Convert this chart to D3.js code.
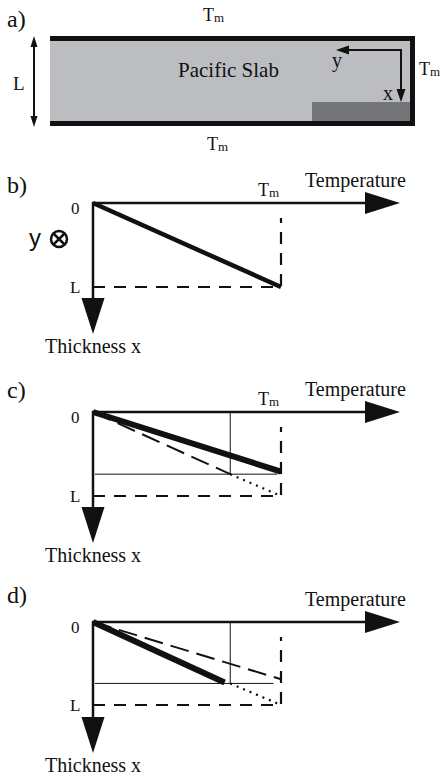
<!DOCTYPE html>
<html>
<head>
<meta charset="utf-8">
<style>
  body { margin: 0; background: #fff; }
</style>
</head>
<body>
<script src="https://cdn.jsdelivr.net/npm/d3@7/dist/d3.min.js"></script>
<script>
// panel labels
var panelLabels = ["a)", "b)", "c)", "d)"];
var axisLabels = ["Temperature", "Thickness x"];

// temperature profiles, as [T / Tm, x / L]
var profileB = [[0, 0], [1, 1]];
var profileCSolid = [[0, 0], [1, 0.71]];
var profileCDashed = [[0, 0], [0.73, 0.74]];
var profileCDotted = [[0.73, 0.74], [1, 1]];
var profileDSolid = [[0, 0], [0.70, 0.73]];
var profileDDashed = [[0, 0], [1, 0.69]];
var profileDDotted = [[0.73, 0.74], [1, 1]];
// thin guide lines (T and x where the profiles break)
var guideC = [0.73, 0.74];
var guideD = [0.73, 0.74];

var serif = "'Liberation Serif', 'Times New Roman', 'DejaVu Serif', serif";
var W = 447, H = 779;
var svg = d3.select("body").append("svg")
  .attr("width", W)
  .attr("height", H)
  .attr("font-family", serif);

function txt(g, x, y, size, s) {
  return g.append("text").attr("x", x).attr("y", y).attr("font-size", size)
    .attr("font-family", serif).attr("fill", "#111").text(s);
}

function tm(g, x, y, size) {
  var t = g.append("text").attr("x", x).attr("y", y).attr("font-size", size)
    .attr("font-family", serif).attr("fill", "#111");
  t.append("tspan").text("T");
  t.append("tspan").attr("font-size", size * 0.72).attr("dy", 1).text("m");
}

// ---------- panel a ----------
var a = svg.append("g");
txt(a, 7, 27, 24, panelLabels[0]);
a.append("rect").attr("x", 50).attr("y", 37).attr("width", 362).attr("height", 87).attr("fill", "#bcbdc0");
a.append("rect").attr("x", 312).attr("y", 102).attr("width", 100).attr("height", 22).attr("fill", "#747578");
a.append("line").attr("x1", 50).attr("x2", 415).attr("y1", 38.5).attr("y2", 38.5).attr("stroke", "#111").attr("stroke-width", 5);
a.append("line").attr("x1", 50).attr("x2", 415).attr("y1", 123.5).attr("y2", 123.5).attr("stroke", "#111").attr("stroke-width", 5);
a.append("line").attr("x1", 412.5).attr("x2", 412.5).attr("y1", 36).attr("y2", 126).attr("stroke", "#111").attr("stroke-width", 5);
tm(a, 203, 21, 18);
tm(a, 207, 150, 18);
tm(a, 419, 75, 18);
txt(a, 13, 90, 19, "L");
txt(a, 178, 77, 21, "Pacific Slab");
txt(a, 332, 67, 20, "y");
txt(a, 383, 100, 20, "x");

// double arrow L
a.append("line").attr("x1", 34).attr("x2", 34).attr("y1", 45).attr("y2", 118).attr("stroke", "#111").attr("stroke-width", 2);
a.append("path").attr("d", "M34,36 L30.5,47 L37.5,47 Z M34,127 L30.5,116 L37.5,116 Z").attr("fill", "#111");
// coordinate arrows
a.append("path").attr("d", "M345,50 L401,50 L401,90").attr("fill", "none").attr("stroke", "#111").attr("stroke-width", 2);
a.append("path").attr("d", "M336,50 L349,45.5 L349,54.5 Z M401,102 L396.5,89 L405.5,89 Z").attr("fill", "#111");

// ---------- diagram panels ----------
function diagram(opts) {
  var g = svg.append("g");
  var y0 = opts.y0;
  var T = d3.scaleLinear().domain([0, 1]).range([93, 281]);
  var X = d3.scaleLinear().domain([0, 1]).range([y0, opts.yL]);
  var line = d3.line().x(function(d) { return T(d[0]); }).y(function(d) { return X(d[1]); });

  txt(g, 7, opts.labelY, 24, opts.label);

  // thin guides
  if (opts.guide) {
    g.append("line").attr("x1", T(0.01)).attr("x2", T(opts.guideEnd)).attr("y1", X(opts.guide[1])).attr("y2", X(opts.guide[1]))
      .attr("stroke", "#111").attr("stroke-width", 1);
    g.append("line").attr("x1", T(opts.guide[0])).attr("x2", T(opts.guide[0])).attr("y1", X(0)).attr("y2", X(opts.guide[1]))
      .attr("stroke", "#111").attr("stroke-width", 1);
  }

  // dashed L and Tm limits
  g.append("path").attr("d", "M" + T(0) + "," + X(1) + " L" + T(1) + "," + X(1) + " L" + T(1) + "," + (y0 + 15))
    .attr("fill", "none").attr("stroke", "#111").attr("stroke-width", 2.2).attr("stroke-dasharray", "12,9");

  if (opts.dashed) {
    g.append("path").attr("d", line(opts.dashed)).attr("fill", "none").attr("stroke", "#111")
      .attr("stroke-width", 2).attr("stroke-dasharray", "19,8");
  }
  if (opts.dotted) {
    g.append("path").attr("d", line(opts.dotted)).attr("fill", "none").attr("stroke", "#111")
      .attr("stroke-width", 2.2).attr("stroke-dasharray", "2,5");
  }
  g.append("path").attr("d", line(opts.solid)).attr("fill", "none").attr("stroke", "#111")
    .attr("stroke-width", opts.solidW);

  // axes with big arrowheads
  g.append("line").attr("x1", 92).attr("x2", 370).attr("y1", y0).attr("y2", y0).attr("stroke", "#111").attr("stroke-width", 2.5);
  g.append("line").attr("x1", 93).attr("x2", 93).attr("y1", y0 - 1).attr("y2", y0 + 100).attr("stroke", "#111").attr("stroke-width", 2.5);
  g.append("path").attr("d", "M400," + y0 + " L365," + (y0 - 11) + " L365," + (y0 + 11) + " Z").attr("fill", "#111");
  g.append("path").attr("d", "M93," + (y0 + 131) + " L81.5," + (y0 + 95) + " L104.5," + (y0 + 95) + " Z").attr("fill", "#111");

  txt(g, 71, y0 + 11, 17, "0");
  txt(g, 70, X(1) + 6, 17, "L");
  txt(g, 305, y0 - 16, 20, axisLabels[0]);
  txt(g, 45, y0 + 150, 20, axisLabels[1]);
  if (opts.showTm) tm(g, 258, y0 - 7, 18);
  return g;
}

var gb = diagram({ label: panelLabels[1], labelY: 193, y0: 203, yL: 287, solid: profileB, solidW: 4.5, showTm: true });
// y into the page symbol
gb.append("text").attr("x", 29).attr("y", 246).attr("font-size", 24).attr("fill", "#111")
  .attr("font-family", "'Liberation Sans', Arial, sans-serif").text("y");
gb.append("circle").attr("cx", 59).attr("cy", 239).attr("r", 8).attr("fill", "none").attr("stroke", "#111").attr("stroke-width", 2.5);
gb.append("path").attr("d", "M54,234 L64,244 M64,234 L54,244").attr("stroke", "#111").attr("stroke-width", 2.5);

diagram({ label: panelLabels[2], labelY: 398, y0: 412, yL: 496, solid: profileCSolid, solidW: 6,
  dashed: profileCDashed, dotted: profileCDotted, guide: guideC, guideEnd: 0.98, showTm: true });

diagram({ label: panelLabels[3], labelY: 603, y0: 622, yL: 705, solid: profileDSolid, solidW: 6,
  dashed: profileDDashed, dotted: profileDDotted, guide: guideD, guideEnd: 0.96, showTm: false });
</script>
</body>
</html>
